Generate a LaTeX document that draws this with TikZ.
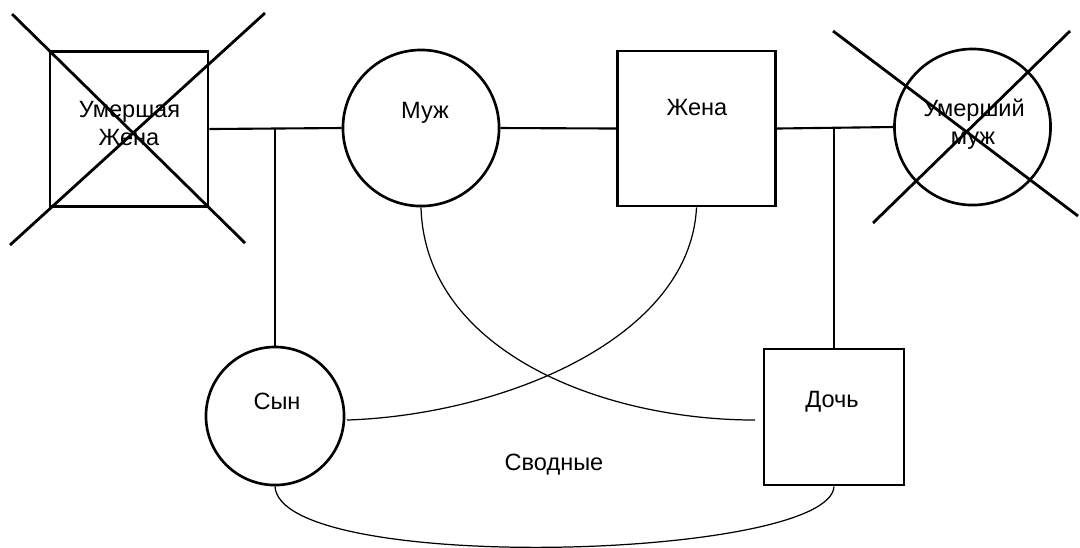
\documentclass[tikz,border=0pt]{standalone}
\usepackage{fontspec}
\setmainfont{Liberation Sans}
\tikzset{
  LabelStyle/.style = { inner sep = 0pt, anchor = base,
                       font = \fontsize{6.7}{8}\selectfont },
  CircleStyle/.style = { shape = circle, draw, line width = 0.75pt,
                        inner sep = 0pt, minimum size = 1.56cm },
  SquareStyle/.style = { shape = rectangle, draw, line width = 0.75pt,
                        inner sep = 0pt, minimum width = 1.58cm, minimum height = 1.55cm },
  EdgeStyle/.style = { line width = 0.6pt },
  CrossStyle/.style = { line width = 0.8pt },
  HalfStyle/.style = { line width = 0.35pt } }

\begin{document}
\begin{tikzpicture}[x=0.01cm, y=-0.01cm]
  \useasboundingbox (0,0) rectangle (1080,547);

  \node[SquareStyle] (wife1) at (129,129) {};
  \node[CircleStyle] (husb) at (421,128) {};
  \node[SquareStyle] (wife) at (696.5,128.5) {};
  \node[CircleStyle] (husb1) at (972.5,127) {};
  \node[CircleStyle, minimum size = 1.38cm] (son) at (275,416) {};
  \node[SquareStyle, minimum width = 1.40cm, minimum height = 1.36cm] (daughter) at (834,417) {};

  \node[LabelStyle] (wife1-t1) at (129.5,117) {Умершая};
  \node[LabelStyle] (wife1-t2) at (129,145) {Жена};
  \node[LabelStyle] (husb-t) at (425,118) {Муж};
  \node[LabelStyle] (wife-t) at (697,115) {Жена};
  \node[LabelStyle] (husb1-t1) at (974,116) {Умерший};
  \node[LabelStyle] (husb1-t2) at (973,144) {муж};
  \node[LabelStyle] (son-t) at (277,409) {Сын};
  \node[LabelStyle] (daughter-t) at (832,407) {Дочь};
  \node[LabelStyle] (half-t) at (554,470) {Сводные};

  % crosses
  \coordinate (w1a) at (12,14);
  \coordinate (w1b) at (245,243);
  \coordinate (w1c) at (265,13);
  \coordinate (w1d) at (10,245);
  \coordinate (h1a) at (833,31);
  \coordinate (h1b) at (1078,216);
  \coordinate (h1c) at (1070,31);
  \coordinate (h1d) at (873,223);
  \draw[CrossStyle] (w1a) -- (w1b);
  \draw[CrossStyle] (w1c) -- (w1d);
  \draw[CrossStyle] (h1a) -- (h1b);
  \draw[CrossStyle] (h1c) -- (h1d);

  \draw[EdgeStyle] (wife1.east) -- (husb.west);
  \draw[EdgeStyle] (husb.east) -- (wife.west);
  \draw[EdgeStyle] (wife.east) -- (husb1.west);
  \draw[EdgeStyle] (son.north) -- (son.north |- husb.west);
  \draw[EdgeStyle] (daughter.north) -- (daughter.north |- wife.east);

  \coordinate (son-end) at (347,420);
  \coordinate (daughter-end) at (755,420);
  \draw[HalfStyle] (husb.south) .. controls (425,350) and (600,420) .. (daughter-end);
  \draw[HalfStyle] (wife.south) .. controls (690,340) and (500,415) .. (son-end);
  \draw[HalfStyle] (son.south) .. controls (280,575) and (830,560) .. (daughter.south);
\end{tikzpicture}
\end{document}
